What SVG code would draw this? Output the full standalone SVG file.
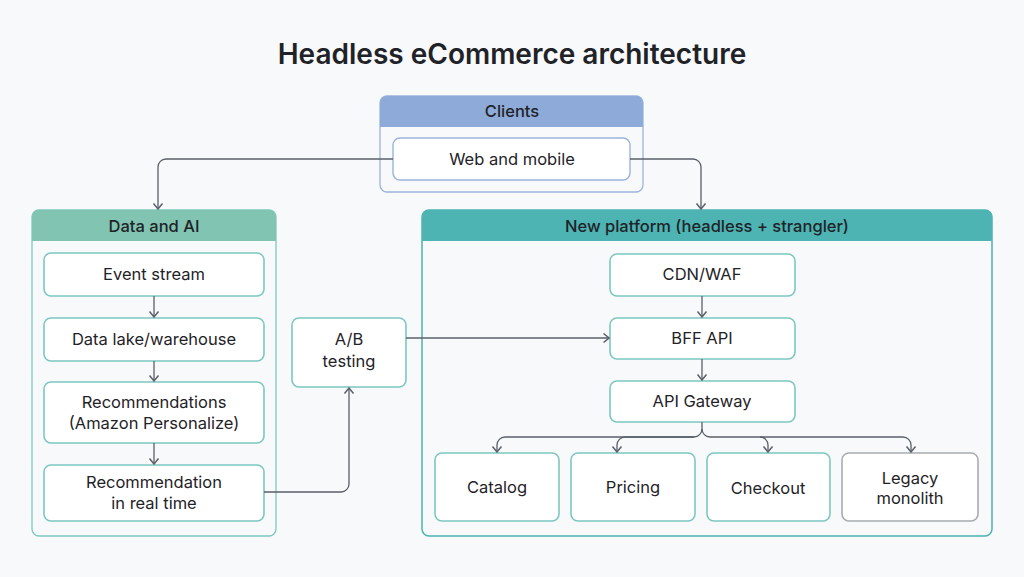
<svg xmlns="http://www.w3.org/2000/svg" width="1024" height="577" viewBox="0 0 1024 577">
<defs>
<marker id="ar" viewBox="0 0 12 12" refX="6" refY="11" markerWidth="12" markerHeight="12" orient="0" markerUnits="userSpaceOnUse"><path d="M1.5,5.5 L6,11 L10.5,5.5" fill="none" stroke="#5a6068" stroke-width="1.5"/></marker>
<marker id="arr" viewBox="0 0 12 12" refX="11" refY="6" markerWidth="12" markerHeight="12" orient="0" markerUnits="userSpaceOnUse"><path d="M5.5,1.5 L11,6 L5.5,10.5" fill="none" stroke="#5a6068" stroke-width="1.5"/></marker>
<marker id="aru" viewBox="0 0 12 12" refX="6" refY="1" markerWidth="12" markerHeight="12" orient="0" markerUnits="userSpaceOnUse"><path d="M1.5,6.5 L6,1 L10.5,6.5" fill="none" stroke="#5a6068" stroke-width="1.5"/></marker>
</defs>
<style>
text{font-family:Inter,"Noto Sans","Liberation Sans",sans-serif;fill:#1f2328;text-anchor:middle}
.t{font-size:16.5px}
.h{font-size:16.5px;font-weight:500}
.n{fill:#fff;stroke:#7cc8c0;stroke-width:1.6}
.g{fill:#fff;stroke:#a8acb0;stroke-width:1.6}
.c{fill:none;stroke:#5a6068;stroke-width:1.3}
</style>
<rect width="1024" height="577" fill="#f8f9fb"/>
<text x="512" y="64" style="font-size:28px;font-weight:600">Headless eCommerce architecture</text>

<g id="clients">
<rect x="380" y="96" width="263" height="96" rx="7" fill="#f8f9fb" stroke="#9cb4dc" stroke-width="1.3"/>
<path d="M380,127 V103 a7,7 0 0 1 7,-7 H636 a7,7 0 0 1 7,7 V127 Z" fill="#8eaad8"/>
<text x="512" y="117" class="h">Clients</text>
</g>
<g id="web"><rect x="393" y="138" width="237" height="42" rx="7" fill="#fff" stroke="#9cb4dc" stroke-width="1.4"/><text x="512" y="165" class="t">Web and mobile</text></g>

<g id="data-ai">
<rect x="32" y="210" width="244" height="326" rx="7" fill="#f8f9fb" stroke="#7cc8c0" stroke-width="1.3"/>
<path d="M32,241 V217 a7,7 0 0 1 7,-7 H269 a7,7 0 0 1 7,7 V241 Z" fill="#80c4b1"/>
<text x="154" y="232" class="h">Data and AI</text>
</g>
<g id="event"><rect x="44" y="253" width="220" height="43" rx="7" class="n"/><text x="154" y="280" class="t">Event stream</text></g>
<g id="lake"><rect x="44" y="318" width="220" height="43" rx="7" class="n"/><text x="154" y="345" class="t">Data lake/warehouse</text></g>
<g id="recs"><rect x="44" y="382" width="220" height="61" rx="7" class="n"/><text x="154" y="408" class="t">Recommendations</text><text x="154" y="429" class="t">(Amazon Personalize)</text></g>
<g id="rt"><rect x="44" y="465" width="220" height="56" rx="7" class="n"/><text x="154" y="488" class="t">Recommendation</text><text x="154" y="509" class="t">in real time</text></g>

<g id="ab"><rect x="292" y="318" width="114" height="69" rx="7" class="n"/><text x="349" y="345" class="t">A/B</text><text x="349" y="367" class="t">testing</text></g>

<g id="platform">
<rect x="422" y="210" width="570" height="326" rx="7" fill="#f8f9fb" stroke="#4db3b3" stroke-width="1.5"/>
<path d="M422,241 V217 a7,7 0 0 1 7,-7 H985 a7,7 0 0 1 7,7 V241 Z" fill="#4db3b3"/>
<text x="707" y="232" class="h">New platform (headless + strangler)</text>
</g>
<g id="cdn"><rect x="610" y="254" width="185" height="42" rx="7" class="n"/><text x="702" y="280" class="t">CDN/WAF</text></g>
<g id="bff"><rect x="610" y="318" width="185" height="41" rx="7" class="n"/><text x="702" y="344" class="t">BFF API</text></g>
<g id="gw"><rect x="610" y="381" width="185" height="41" rx="7" class="n"/><text x="702" y="407" class="t">API Gateway</text></g>
<g id="catalog"><rect x="435" y="453" width="124" height="68" rx="7" class="n"/><text x="497" y="493" class="t">Catalog</text></g>
<g id="pricing"><rect x="571" y="453" width="124" height="68" rx="7" class="n"/><text x="633" y="493" class="t">Pricing</text></g>
<g id="checkout"><rect x="707" y="453" width="123" height="68" rx="7" class="n"/><text x="768" y="494" class="t">Checkout</text></g>
<g id="legacy"><rect x="842" y="453" width="136" height="68" rx="7" class="g"/><text x="910" y="484" class="t">Legacy</text><text x="910" y="504" class="t">monolith</text></g>

<g id="connectors">
<path class="c" d="M393,159 H166 a8,8 0 0 0 -8,8 V209" marker-end="url(#ar)"/>
<path class="c" d="M630,159 H693 a8,8 0 0 1 8,8 V209" marker-end="url(#ar)"/>
<path class="c" d="M154,296 V317" marker-end="url(#ar)"/>
<path class="c" d="M154,361 V381" marker-end="url(#ar)"/>
<path class="c" d="M154,443 V464" marker-end="url(#ar)"/>
<path class="c" d="M264,492 H341 a8,8 0 0 0 8,-8 V388" marker-end="url(#aru)"/>
<path class="c" d="M406,338 H609" marker-end="url(#arr)"/>
<path class="c" d="M702,296 V317" marker-end="url(#ar)"/>
<path class="c" d="M702,359 V380" marker-end="url(#ar)"/>
<path class="c" d="M702,422 V429 a8,8 0 0 1 -8,8 H505 a8,8 0 0 0 -8,8 V452" marker-end="url(#ar)"/>
<path class="c" d="M694,437 H625 a8,8 0 0 0 -8,8 V452" marker-end="url(#ar)"/>
<path class="c" d="M702,429 a8,8 0 0 0 8,8 H903 a8,8 0 0 1 8,8 V452" marker-end="url(#ar)"/>
<path class="c" d="M760,437 a8,8 0 0 1 8,8 V452" marker-end="url(#ar)"/>
</g>
</svg>
